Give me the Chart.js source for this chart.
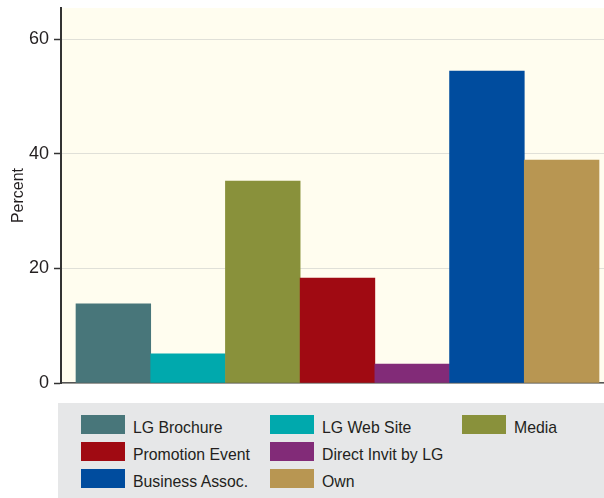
<!DOCTYPE html>
<html><head><meta charset="utf-8">
<script src="https://cdn.jsdelivr.net/npm/chart.js@4"></script>
<style>
html,body{margin:0;padding:0;background:#fff;overflow:hidden}
#wrap{position:relative;width:604px;height:498px}
#c{position:absolute;left:0;top:0}
#legend{position:absolute;left:58px;top:403px;width:546px;height:95px;background:#e6e7e8}
.item{position:absolute;height:19px}
.sw{position:absolute;left:0;top:0;width:44px;height:19px}
.lb{position:absolute;left:52px;top:4px;font-size:17px;line-height:17px;font-family:'Liberation Sans',Arial,sans-serif;color:#231f20;white-space:nowrap;transform:scaleX(0.93);transform-origin:0 0}
</style></head>
<body>
<div id="wrap">
<canvas id="c" width="604" height="390"></canvas>
<div id="legend"></div>
</div>
<script>
const categories = ['LG Brochure','LG Web Site','Media','Promotion Event','Direct Invit by LG','Business Assoc.','Own'];
const values = [13.8, 5.1, 35.2, 18.3, 3.3, 54.4, 38.9];
const colors = ['#48767a','#00a9ad','#89913b','#a00a12','#822b78','#004c9e','#b89652'];
const yTicks = [0, 20, 40, 60];

const FONT = "'Liberation Sans',Arial,sans-serif";

const bgPlugin = {
  id: 'bg',
  beforeDraw(chart) {
    const {ctx, chartArea: a} = chart;
    ctx.save();
    ctx.fillStyle = '#fffdef';
    ctx.fillRect(a.left, a.top, a.right - a.left, a.bottom - a.top);
    ctx.restore();
  }
};

new Chart(document.getElementById('c'), {
  type: 'bar',
  data: {
    datasets: [{
      data: values.map((v, i) => ({x: i, y: v})),
      backgroundColor: colors,
      borderWidth: 0,
      barPercentage: 1,
      categoryPercentage: 1
    }]
  },
  options: {
    responsive: false,
    animation: false,
    layout: {padding: {top: 8, bottom: 7, left: 0, right: 0}},
    plugins: {legend: {display: false}, tooltip: {enabled: false}},
    scales: {
      x: {
        type: 'linear',
        offset: false,
        min: -0.7008,
        max: 6.567,
        grid: {display: false},
        ticks: {display: false},
        border: {display: true, color: '#555', width: 1.5},
        afterFit(s) { s.height = 0; s.paddingLeft = 0; s.paddingRight = 0; }
      },
      y: {
        min: 0,
        max: 65.41,
        afterBuildTicks(s) { s.ticks = yTicks.map(v => ({value: v})); },
        afterFit(s) { s.width = 61; s.paddingTop = 0; s.paddingBottom = 0; },
        grid: {color: '#e0e0d8', lineWidth: 1, drawTicks: true, tickLength: 7, tickColor: '#333', tickWidth: 1.5},
        border: {display: true, color: '#333', width: 2},
        ticks: {padding: 5, color: '#231f20', font: {family: FONT, size: 18}},
        title: {display: true, text: 'Percent', color: '#231f20', font: {family: FONT, size: 16}, padding: {top: 9, bottom: 0}}
      }
    }
  },
  plugins: [bgPlugin]
});

// legend layout: [column, row] for each category
const legendPos = [[0,0],[1,0],[2,0],[0,1],[1,1],[0,2],[1,2]];
const leg = document.getElementById('legend');
const colX = [23, 212, 404];
const rowY = [12, 39, 66];
categories.forEach((name, i) => {
  const it = document.createElement('div');
  it.className = 'item';
  it.style.left = colX[legendPos[i][0]] + 'px';
  it.style.top = rowY[legendPos[i][1]] + 'px';
  const sw = document.createElement('div');
  sw.className = 'sw';
  sw.style.background = colors[i];
  const lb = document.createElement('div');
  lb.className = 'lb';
  lb.textContent = name;
  it.appendChild(sw); it.appendChild(lb);
  leg.appendChild(it);
});
</script>
</body></html>
